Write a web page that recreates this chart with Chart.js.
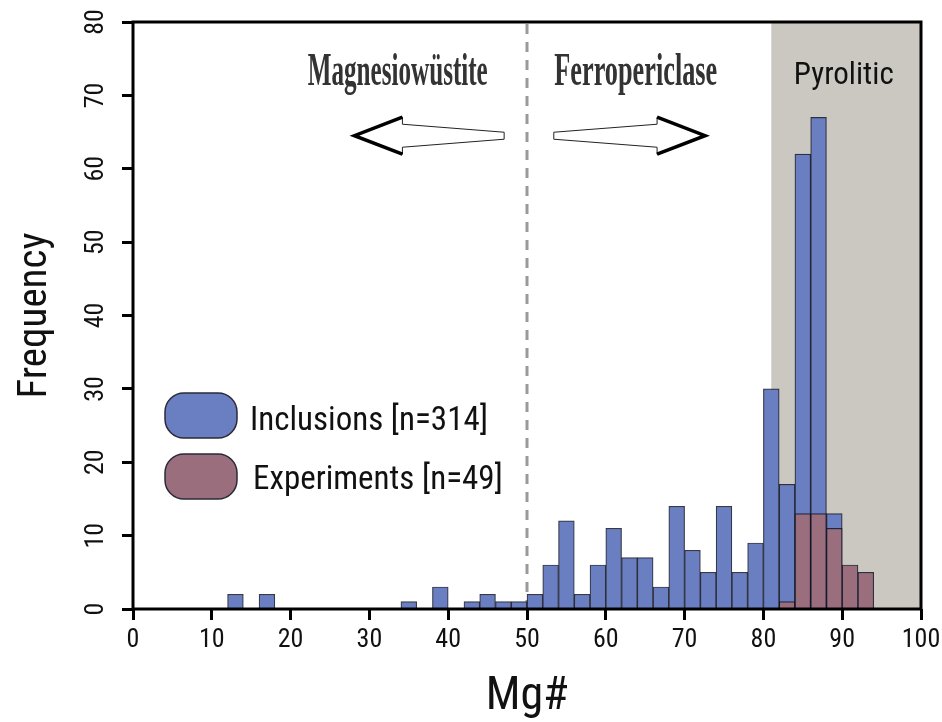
<!DOCTYPE html>
<html>
<head>
<meta charset="utf-8">
<script src="https://cdn.jsdelivr.net/npm/chart.js@4.4.1/dist/chart.umd.min.js"></script>
<style>
  html, body { margin: 0; padding: 0; background: #fff; }
  #wrap { width: 942px; height: 722px; position: relative; }
</style>
</head>
<body>
<div id="wrap"><canvas id="chart"></canvas></div>
<script>
// Mg# histogram, 2-unit bins (values are bin centres)
const inclusionBins = [13, 17, 35, 39, 43, 45, 47, 49, 51, 53, 55, 57, 59, 61, 63, 65, 67, 69, 71, 73, 75, 77, 79, 81, 83, 85, 87, 89];
const inclusionCounts = [2, 2, 1, 3, 1, 2, 1, 1, 2, 6, 12, 2, 6, 11, 7, 7, 3, 14, 8, 5, 14, 5, 9, 30, 17, 62, 67, 13];
const experimentBins = [83, 85, 87, 89, 91, 93];
const experimentCounts = [1, 13, 13, 11, 6, 5];

const xTicks = [0, 10, 20, 30, 40, 50, 60, 70, 80, 90, 100];
const yTicks = [0, 10, 20, 30, 40, 50, 60, 70, 80];

const seriesLabels = ['Inclusions [n=314]', 'Experiments [n=49]'];
const fieldLabels = ['Magnesiowüstite', 'Ferropericlase', 'Pyrolitic'];
const mwFpBoundary = 50;
const pyroliticRange = [81, 100];

const NARROW = "'Roboto Condensed', 'Liberation Sans Narrow', sans-serif";
const BLUE = '#6a7fc1';
const MAUVE = '#9b6e7e';
const BAR_EDGE = 'rgba(20, 22, 40, 0.85)';

function toPoints(xs, ys) {
  return xs.map((x, i) => ({ x, y: ys[i] }));
}

// squeeze a string horizontally so it fills a given width
function condensedText(ctx, text, cx, baseline, width, font, fill) {
  ctx.save();
  ctx.font = font;
  const w = ctx.measureText(text).width;
  ctx.translate(cx, baseline);
  ctx.scale(width / w, 1);
  ctx.textAlign = 'center';
  ctx.textBaseline = 'alphabetic';
  ctx.fillStyle = fill;
  ctx.fillText(text, 0, 0);
  ctx.restore();
}

function drawArrow(ctx, tailX, tipX, y) {
  const dir = tipX > tailX ? 1 : -1;
  const headBack = tipX - dir * 48;
  ctx.save();
  ctx.beginPath();
  ctx.moveTo(tipX, y);
  ctx.lineTo(headBack, y - 18.5);
  ctx.lineTo(headBack, y - 11.5);
  ctx.lineTo(tailX, y - 3.5);
  ctx.lineTo(tailX, y + 3.5);
  ctx.lineTo(headBack, y + 11.5);
  ctx.lineTo(headBack, y + 18.5);
  ctx.closePath();
  ctx.fillStyle = '#fff';
  ctx.fill();
  ctx.lineWidth = 1;
  ctx.strokeStyle = '#222';
  ctx.stroke();
  // heavy outer edges of the head
  ctx.beginPath();
  ctx.moveTo(headBack, y - 18.5);
  ctx.lineTo(tipX, y);
  ctx.lineTo(headBack, y + 18.5);
  ctx.lineWidth = 3.5;
  ctx.lineJoin = 'miter';
  ctx.strokeStyle = '#000';
  ctx.stroke();
  ctx.restore();
}

function noOverhang(s) {
  s.paddingLeft = 0;
  s.paddingRight = 0;
  s.paddingTop = 0;
  s.paddingBottom = 0;
}

const backdrop = {
  id: 'backdrop',
  beforeDatasetsDraw(chart) {
    const { ctx, chartArea: a, scales: { x } } = chart;
    ctx.save();
    const x0 = x.getPixelForValue(pyroliticRange[0]);
    const x1 = x.getPixelForValue(pyroliticRange[1]);
    ctx.fillStyle = '#cbc8c1';
    ctx.fillRect(x0, a.top, x1 - x0, a.bottom - a.top);

    const xb = x.getPixelForValue(mwFpBoundary);
    ctx.beginPath();
    ctx.setLineDash([10, 8]);
    ctx.moveTo(xb, a.top + 2);
    ctx.lineTo(xb, a.bottom);
    ctx.lineWidth = 3;
    ctx.strokeStyle = '#9a9a9a';
    ctx.stroke();
    ctx.restore();
  }
};

const annotations = {
  id: 'annotations',
  afterDatasetsDraw(chart) {
    const { ctx, chartArea: a, scales: { x, y } } = chart;

    // frame
    ctx.save();
    ctx.lineWidth = 3;
    ctx.strokeStyle = '#000';
    ctx.strokeRect(a.left, a.top, a.right - a.left, a.bottom - a.top);
    ctx.restore();

    // field names
    const titleY = y.getPixelForValue(71.4);
    const grad = ctx.createLinearGradient(0, titleY - 32, 0, titleY + 10);
    grad.addColorStop(0, '#333333');
    grad.addColorStop(0.5, '#808080');
    grad.addColorStop(1, '#333333');
    const serif = "bold 46px 'Liberation Serif', 'DejaVu Serif', serif";
    condensedText(ctx, fieldLabels[0], x.getPixelForValue(33.6), titleY, 180, serif, grad);
    condensedText(ctx, fieldLabels[1], x.getPixelForValue(63.8), titleY, 163, serif, grad);

    ctx.save();
    ctx.font = '31px ' + NARROW;
    ctx.fillStyle = '#111';
    ctx.textAlign = 'center';
    ctx.textBaseline = 'alphabetic';
    ctx.fillText(fieldLabels[2], x.getPixelForValue(90.2), y.getPixelForValue(71.6));
    ctx.restore();

    // arrows pointing away from the boundary
    const arrowY = y.getPixelForValue(64.5);
    drawArrow(ctx, x.getPixelForValue(47.1), x.getPixelForValue(28.1), arrowY);
    drawArrow(ctx, x.getPixelForValue(53.4), x.getPixelForValue(72.6), arrowY);

    // legend
    const rows = [{ top: 393, text: 250, base: 430 }, { top: 454, text: 253, base: 489 }];
    ctx.save();
    rows.forEach((r, i) => {
      const ds = chart.data.datasets[i];
      ctx.beginPath();
      ctx.roundRect(165, r.top, 72, 45, 19);
      ctx.fillStyle = ds.backgroundColor;
      ctx.fill();
      ctx.lineWidth = 1.5;
      ctx.strokeStyle = '#2a2a38';
      ctx.stroke();
      ctx.font = '33px ' + NARROW;
      ctx.fillStyle = '#111';
      ctx.textAlign = 'left';
      ctx.textBaseline = 'alphabetic';
      ctx.fillText(ds.label, r.text, r.base);
    });
    ctx.restore();
  }
};

new Chart(document.getElementById('chart'), {
  type: 'bar',
  data: {
    datasets: [
      {
        label: seriesLabels[0],
        data: toPoints(inclusionBins, inclusionCounts),
        backgroundColor: BLUE,
        borderColor: BAR_EDGE,
        borderWidth: 1.2,
        order: 2
      },
      {
        label: seriesLabels[1],
        data: toPoints(experimentBins, experimentCounts),
        backgroundColor: MAUVE,
        borderColor: BAR_EDGE,
        borderWidth: 1.2,
        order: 1
      }
    ]
  },
  options: {
    responsive: true,
    maintainAspectRatio: false,
    animation: false,
    devicePixelRatio: 1,
    layout: { padding: { top: 22, right: 21, left: 0, bottom: 0 } },
    datasets: {
      bar: { grouped: false, barPercentage: 1, categoryPercentage: 1 }
    },
    plugins: {
      legend: { display: false },
      tooltip: { enabled: false }
    },
    scales: {
      x: {
        type: 'linear',
        min: 0,
        max: 100,
        offset: false,
        afterBuildTicks(s) { s.ticks = xTicks.map(v => ({ value: v })); },
        afterFit(s) { s.height = 113; noOverhang(s); },
        grid: { display: true, drawOnChartArea: false, offset: false, tickLength: 11, tickWidth: 3, tickColor: '#000' },
        border: { display: false },
        ticks: { color: '#111', padding: 5, font: { family: NARROW, size: 26, lineHeight: 1.2 } },
        title: {
          display: true,
          text: 'Mg#',
          color: '#111',
          padding: { top: 0, bottom: 2 },
          font: { family: NARROW, size: 46, lineHeight: 1 }
        }
      },
      y: {
        min: 0,
        max: 80,
        afterBuildTicks(s) { s.ticks = yTicks.map(v => ({ value: v })); },
        afterFit(s) { s.width = 133; noOverhang(s); },
        grid: { display: true, drawOnChartArea: false, tickLength: 11, tickWidth: 3, tickColor: '#000' },
        border: { display: false },
        ticks: {
          color: '#111',
          padding: 13,
          minRotation: 90,
          maxRotation: 90,
          crossAlign: 'center',
          font: { family: NARROW, size: 26, lineHeight: 1.2 }
        },
        title: {
          display: true,
          text: 'Frequency',
          color: '#111',
          padding: { top: 15, bottom: 0 },
          font: { family: NARROW, size: 41, lineHeight: 1 }
        }
      }
    }
  },
  plugins: [backdrop, annotations]
});
</script>
</body>
</html>
